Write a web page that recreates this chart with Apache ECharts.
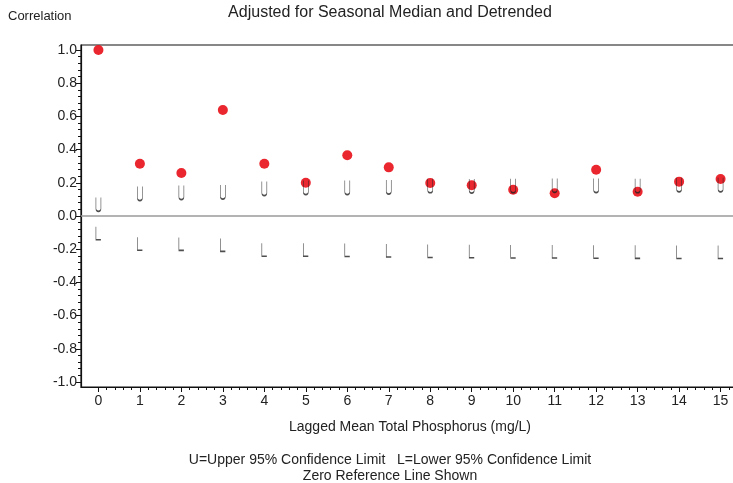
<!DOCTYPE html>
<html>
<head>
    <meta charset="UTF-8">
    <title>Cross-correlation</title>
    <script src="https://cdn.jsdelivr.net/npm/echarts@6/dist/echarts.min.js"></script>
    <style>
        html, body { margin: 0; padding: 0; background: #fff; overflow: hidden; }
    </style>
</head>
<body>
    <!-- wider than the window on purpose: the plot frame runs past the right edge -->
    <div id="chart" style="width:760px; height:483px;"></div>
    <script>
        // lag categories and readings
        var lags = [0, 1, 2, 3, 4, 5, 6, 7, 8, 9, 10, 11, 12, 13, 14, 15];
        var correlation = [1.0, 0.315, 0.259, 0.638, 0.315, 0.200, 0.366, 0.293, 0.199, 0.185, 0.158, 0.137, 0.279, 0.146, 0.207, 0.223];
        var upper95 = [0.070, 0.135, 0.141, 0.144, 0.165, 0.171, 0.171, 0.174, 0.182, 0.180, 0.182, 0.184, 0.183, 0.182, 0.188, 0.188];
        var lower95 = [-0.104, -0.167, -0.168, -0.174, -0.203, -0.203, -0.205, -0.208, -0.211, -0.212, -0.214, -0.214, -0.215, -0.216, -0.217, -0.217];
        var yTicks = [-1.0, -0.8, -0.6, -0.4, -0.2, 0.0, 0.2, 0.4, 0.6, 0.8, 1.0];
        var xTicks = lags;

        var font = "'Liberation Sans', Arial, sans-serif";
        var ink = '#222';

        function minors(lo, hi, step, major) {
            var out = [];
            for (var v = lo; v <= hi + 1e-9; v += step) {
                var r = Math.round(v * 100) / 100;
                if (Math.abs(r / major - Math.round(r / major)) > 1e-6) out.push(r);
            }
            return out;
        }

        function pairs(ys) {
            return lags.map(function (x, i) { return [x, ys[i]]; });
        }

        var U_PATH = 'path://M0,0 L0,11 A2.5,2.5 0 0 0 5,11 L5,0';
        var L_PATH = 'path://M0,0 L0,12 L4,12';

        var chart = echarts.init(document.getElementById('chart'), null, {renderer: 'canvas'});
        chart.setOption({
            animation: false,
            grid: {
                left: 81, top: 45, width: 657, height: 342,
                show: true, borderColor: '#111', borderWidth: 1.2, backgroundColor: 'transparent'
            },
            xAxis: [{
                type: 'value', min: -0.42, max: 15.42,
                axisLine: {onZero: false, lineStyle: {color: '#111', width: 1.2}},
                axisTick: {show: true, customValues: xTicks, length: 5, lineStyle: {color: '#111'}},
                axisLabel: {customValues: xTicks, color: ink, fontFamily: font, fontSize: 14, margin: 7},
                splitLine: {show: false}
            }, {
                type: 'value', min: -0.42, max: 15.42, position: 'bottom',
                axisLine: {show: false, onZero: false},
                axisTick: {show: true, customValues: minors(0, 15.4, 0.2, 1), length: 3, lineStyle: {color: '#111'}},
                axisLabel: {show: false},
                splitLine: {show: false}
            }],
            yAxis: [{
                type: 'value', min: -1.03, max: 1.03,
                axisLine: {show: true, onZero: false, lineStyle: {color: '#111', width: 1.2}},
                axisTick: {show: true, customValues: yTicks, length: 5, lineStyle: {color: '#111'}},
                axisLabel: {
                    customValues: yTicks, color: ink, fontFamily: font, fontSize: 14, margin: 4,
                    formatter: function (v) { return v.toFixed(1); }
                },
                splitLine: {show: false}
            }, {
                type: 'value', min: -1.03, max: 1.03, position: 'left',
                axisLine: {show: false, onZero: false},
                axisTick: {show: true, customValues: minors(-1.0, 1.0, 0.04, 0.2), length: 3, lineStyle: {color: '#111'}},
                axisLabel: {show: false},
                splitLine: {show: false}
            }],
            series: [{
                type: 'scatter',
                data: pairs(correlation),
                symbol: 'circle',
                symbolSize: 10,
                itemStyle: {color: '#e8141c', opacity: 0.92},
                z: 3,
                markLine: {
                    silent: true,
                    symbol: ['none', 'none'],
                    label: {show: false},
                    lineStyle: {color: '#9a9a9a', width: 1.6, type: 'solid'},
                    data: [{yAxis: 0}]
                }
            }, {
                type: 'scatter',
                data: pairs(upper95),
                symbol: U_PATH,
                symbolSize: [5, 14],
                itemStyle: {color: 'rgba(0,0,0,0)', borderColor: '#222', borderWidth: 1},
                z: 4
            }, {
                type: 'scatter',
                data: pairs(lower95),
                symbol: L_PATH,
                symbolSize: [5, 13],
                itemStyle: {color: 'rgba(0,0,0,0)', borderColor: '#222', borderWidth: 1},
                z: 4
            }],
            graphic: [{
                type: 'text', left: 8, top: 10,
                style: {text: 'Correlation', font: '13px ' + font, fill: ink}
            }, {
                type: 'text', x: 390, y: 13,
                style: {text: 'Adjusted for Seasonal Median and Detrended', font: '16px ' + font, fill: ink,
                        align: 'center', verticalAlign: 'middle'}
            }, {
                type: 'text', x: 410, y: 427,
                style: {text: 'Lagged Mean Total Phosphorus (mg/L)', font: '14px ' + font, fill: ink,
                        align: 'center', verticalAlign: 'middle'}
            }, {
                type: 'text', x: 390, y: 460,
                style: {text: 'U=Upper 95% Confidence Limit   L=Lower 95% Confidence Limit', font: '14px ' + font, fill: ink,
                        align: 'center', verticalAlign: 'middle'}
            }, {
                type: 'text', x: 390, y: 476,
                style: {text: 'Zero Reference Line Shown', font: '14px ' + font, fill: ink,
                        align: 'center', verticalAlign: 'middle'}
            }]
        });
    </script>
</body>
</html>
